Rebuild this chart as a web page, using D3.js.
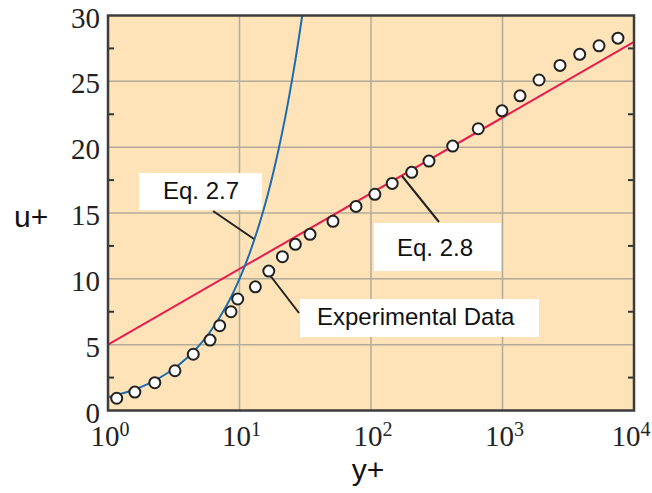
<!DOCTYPE html>
<html>
<head>
<meta charset="utf-8">
<script src="https://cdn.jsdelivr.net/npm/d3@7"></script>
<style>
  html, body { margin: 0; padding: 0; background: #fff; }
  svg { display: block; }
</style>
</head>
<body>
<div id="chart"></div>
<script>
const expY = [1.165, 1.6, 2.27, 3.23, 4.45, 5.97, 7.07, 8.62, 9.69, 13.2, 16.7, 21.2, 26.6, 34.4, 51.4,
  76.9, 107, 145, 204, 276, 418, 654, 991, 1359, 1896, 2737, 3865, 5420, 7550];
const expU = [0.93, 1.40, 2.11, 3.02, 4.27, 5.35, 6.44, 7.50, 8.47, 9.39, 10.59, 11.68, 12.62, 13.38, 14.37,
  15.5, 16.42, 17.25, 18.09, 18.94, 20.08, 21.4, 22.76, 23.9, 25.1, 26.21, 27.05, 27.7, 28.28];

// Eq. 2.7 curve (viscous sublayer) points
const eq27Y = [1, 1.5, 2, 3, 4, 5, 6, 8, 10, 12, 15, 18, 22, 26, 30];
const eq27U = [1, 1.5, 2, 3, 4, 5, 6, 8, 10, 12, 15, 18, 22, 26, 30];

// Eq. 2.8 line (log law) end points
const eq28Y = [1, 10000];
const eq28U = [5, 28];

const uTicks = [0, 5, 10, 15, 20, 25, 30];
const uMinorTicks = [2.5, 7.5, 12.5, 17.5, 22.5, 27.5];
const yTicks = [1, 10, 100, 1000, 10000];
const yTickExp = ["0", "1", "2", "3", "4"];

const width = 652, height = 493;
const mLeft = 108, mRight = 634, mTop = 15.5, mBottom = 410.5;

const svg = d3.select("#chart").append("svg")
  .attr("width", width)
  .attr("height", height);

const x = d3.scaleLog().domain([1, 10000]).range([mLeft, mRight]);
const y = d3.scaleLinear().domain([0, 30]).range([mBottom, mTop]);

svg.append("defs").append("clipPath").attr("id", "plot")
  .append("rect")
  .attr("x", mLeft).attr("y", mTop)
  .attr("width", mRight - mLeft).attr("height", mBottom - mTop);

// background
svg.append("rect")
  .attr("x", mLeft).attr("y", mTop)
  .attr("width", mRight - mLeft).attr("height", mBottom - mTop)
  .attr("fill", "#fde3b7");

// grid
const grid = svg.append("g").attr("stroke", "#b4aa9a").attr("stroke-width", 1.5);
grid.selectAll("line.v")
  .data(yTicks.slice(1, -1))
  .join("line")
  .attr("class", "v")
  .attr("x1", d => x(d)).attr("x2", d => x(d))
  .attr("y1", mTop).attr("y2", mBottom);
grid.selectAll("line.h")
  .data(uTicks.slice(1, -1))
  .join("line")
  .attr("class", "h")
  .attr("x1", mLeft).attr("x2", mRight)
  .attr("y1", d => y(d)).attr("y2", d => y(d));

// minor ticks, inward on both sides
const minor = svg.append("g").attr("stroke", "#333").attr("stroke-width", 2);
minor.selectAll("line.l")
  .data(uMinorTicks)
  .join("line")
  .attr("class", "l")
  .attr("x1", mLeft).attr("x2", mLeft + 6)
  .attr("y1", d => y(d)).attr("y2", d => y(d));
minor.selectAll("line.r")
  .data(uMinorTicks)
  .join("line")
  .attr("class", "r")
  .attr("x1", mRight - 6).attr("x2", mRight)
  .attr("y1", d => y(d)).attr("y2", d => y(d));

const plot = svg.append("g").attr("clip-path", "url(#plot)");

// Eq. 2.8 line
const line = d3.line().x(d => x(d[0])).y(d => y(d[1]));
plot.append("path")
  .datum(d3.zip(eq28Y, eq28U))
  .attr("fill", "none")
  .attr("stroke", "#ea1a4c")
  .attr("stroke-width", 2)
  .attr("d", line);

// Eq. 2.7 curve
plot.append("path")
  .datum(d3.zip(eq27Y, eq27U))
  .attr("fill", "none")
  .attr("stroke", "#1b6cb2")
  .attr("stroke-width", 2)
  .attr("d", line.curve(d3.curveCatmullRom));

// annotations: box in pixels, leader from box to a point
const notes = [
  { text: "Eq. 2.7", box: [139, 173, 123, 37], tx: 163, ty: 199, from: [213, 211], to: [254, 239] },
  { text: "Eq. 2.8", box: [374, 223, 127, 48], tx: 397, ty: 256, from: [439, 222], to: [402, 176] },
  { text: "Experimental Data", box: [300, 299, 239, 38], tx: 317, ty: 325, from: [299, 313], to: [269, 274] }
];

svg.append("g")
  .selectAll("line")
  .data(notes)
  .join("line")
  .attr("x1", d => d.from[0]).attr("y1", d => d.from[1])
  .attr("x2", d => d.to[0]).attr("y2", d => d.to[1])
  .attr("stroke", "#222")
  .attr("stroke-width", 2);

// data points
svg.append("g")
  .selectAll("circle")
  .data(d3.zip(expY, expU))
  .join("circle")
  .attr("cx", d => x(d[0]))
  .attr("cy", d => y(d[1]))
  .attr("r", 5.5)
  .attr("fill", "#fff")
  .attr("stroke", "#222")
  .attr("stroke-width", 2);

const noteG = svg.append("g");
noteG.selectAll("rect")
  .data(notes)
  .join("rect")
  .attr("x", d => d.box[0]).attr("y", d => d.box[1])
  .attr("width", d => d.box[2]).attr("height", d => d.box[3])
  .attr("fill", "#fff");
noteG.selectAll("text")
  .data(notes)
  .join("text")
  .attr("x", d => d.tx).attr("y", d => d.ty)
  .attr("font-family", "Liberation Sans, Arial, sans-serif")
  .attr("font-size", 24)
  .attr("fill", "#111")
  .text(d => d.text);

// frame
svg.append("rect")
  .attr("x", mLeft).attr("y", mTop)
  .attr("width", mRight - mLeft).attr("height", mBottom - mTop)
  .attr("fill", "none")
  .attr("stroke", "#3c3c3c")
  .attr("stroke-width", 2.5);

// y tick labels
svg.append("g")
  .selectAll("text")
  .data(uTicks)
  .join("text")
  .attr("x", 100)
  .attr("y", d => y(d) + 12)
  .attr("text-anchor", "end")
  .attr("font-family", "Liberation Serif, Times New Roman, serif")
  .attr("font-size", 29)
  .attr("fill", "#222")
  .text(d => d);

// x tick labels with superscripts (last one nudged in so it stays on the page)
const xl = svg.append("g")
  .selectAll("text")
  .data(yTicks)
  .join("text")
  .attr("x", (d, i) => x(d) + (i === yTicks.length - 1 ? -3 : 2))
  .attr("y", 446)
  .attr("text-anchor", "middle")
  .attr("font-family", "Liberation Serif, Times New Roman, serif")
  .attr("font-size", 29)
  .attr("fill", "#222");
xl.append("tspan").text("10");
xl.append("tspan")
  .attr("dy", -10)
  .attr("font-size", 20)
  .text((d, i) => yTickExp[i]);

// axis titles
svg.append("text")
  .attr("x", 14).attr("y", 227)
  .attr("font-family", "Liberation Sans, Arial, sans-serif")
  .attr("font-size", 30)
  .attr("fill", "#111")
  .text("u+");
svg.append("text")
  .attr("x", 368).attr("y", 480)
  .attr("text-anchor", "middle")
  .attr("font-family", "Liberation Sans, Arial, sans-serif")
  .attr("font-size", 30)
  .attr("fill", "#111")
  .text("y+");
</script>
</body>
</html>
